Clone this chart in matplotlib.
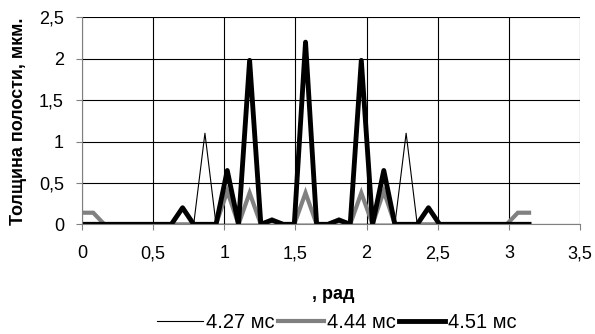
import matplotlib
matplotlib.use("Agg")
import matplotlib.pyplot as plt
from matplotlib.ticker import MultipleLocator, FuncFormatter

plt.rcParams['font.family'] = ['Liberation Sans', 'DejaVu Sans']

# угол, рад (шаг pi/40)
phi = [0.000, 0.079, 0.157, 0.236, 0.314, 0.393, 0.471, 0.550, 0.628, 0.707,
       0.785, 0.864, 0.942, 1.021, 1.100, 1.178, 1.257, 1.335, 1.414, 1.492,
       1.571, 1.649, 1.728, 1.806, 1.885, 1.963, 2.042, 2.121, 2.199, 2.278,
       2.356, 2.435, 2.513, 2.592, 2.670, 2.749, 2.827, 2.906, 2.985, 3.063,
       3.142]

# толщина полости, мкм
h_427 = [0, 0, 0, 0, 0, 0, 0, 0, 0, 0,
         0, 1.1, 0, 0, 0, 0, 0, 0, 0, 0,
         0, 0, 0, 0, 0, 0, 0, 0, 0, 1.1,
         0, 0, 0, 0, 0, 0, 0, 0, 0, 0,
         0]
h_444 = [0.14, 0.14, 0, 0, 0, 0, 0, 0, 0, 0,
         0, 0, 0, 0.4, 0, 0.38, 0, 0.06, 0, 0,
         0.38, 0, 0, 0.06, 0, 0.38, 0, 0.4, 0, 0,
         0, 0, 0, 0, 0, 0, 0, 0, 0, 0.14,
         0.14]
h_451 = [0, 0, 0, 0, 0, 0, 0, 0, 0, 0.2,
         0, 0, 0, 0.65, 0, 1.98, 0, 0.05, 0, 0,
         2.2, 0, 0, 0.05, 0, 1.98, 0, 0.65, 0, 0,
         0, 0.2, 0, 0, 0, 0, 0, 0, 0, 0,
         0]

labels = ['4.27 мс', '4.44 мс', '4.51 мс']
fs = 13

fig = plt.figure(figsize=(5.95, 3.34), dpi=100)
ax = fig.add_axes([0.1378, 0.3284, 0.8370, 0.6198])

ax.plot(phi, h_427, color='black', lw=0.8, label=labels[0])
ax.plot(phi, h_444, color='#808080', lw=3.0, label=labels[1],
        solid_joinstyle='miter')
ax.plot(phi, h_451, color='black', lw=3.5, label=labels[2],
        solid_joinstyle='round')

ax.set_xlim(0, 3.5)
ax.set_ylim(0, 2.5)
ax.xaxis.set_major_locator(MultipleLocator(0.5))
ax.yaxis.set_major_locator(MultipleLocator(0.5))
fmt = FuncFormatter(lambda v, p: f'{v:g}'.replace('.', ','))
ax.xaxis.set_major_formatter(fmt)
ax.yaxis.set_major_formatter(fmt)

ax.grid(True, color='black', lw=0.8)
ax.set_axisbelow(True)
for side in ['top', 'right']:
    ax.spines[side].set_visible(False)
ax.spines['left'].set_color('#808080')
ax.spines['bottom'].set_color('#808080')
ax.tick_params(axis='both', colors='#808080', labelcolor='black',
               labelsize=fs, length=4, width=0.8)
ax.tick_params(axis='x', pad=11)
ax.tick_params(axis='y', pad=9)

ax.set_ylabel('Толщина полости, мкм.', fontsize=fs, fontweight='bold')
ax.yaxis.set_label_coords(-0.11, 0.5)
ax.set_xlabel(', рад', fontsize=fs, fontweight='bold')
ax.xaxis.set_label_coords(0.504, -0.30)

ax.legend(loc='center', bbox_to_anchor=(0.512, -0.475), ncol=3, frameon=False,
          fontsize=14.5, handlelength=2.3, handletextpad=0.15,
          columnspacing=0.15, borderpad=0)

fig.savefig('out.png', dpi=100)
